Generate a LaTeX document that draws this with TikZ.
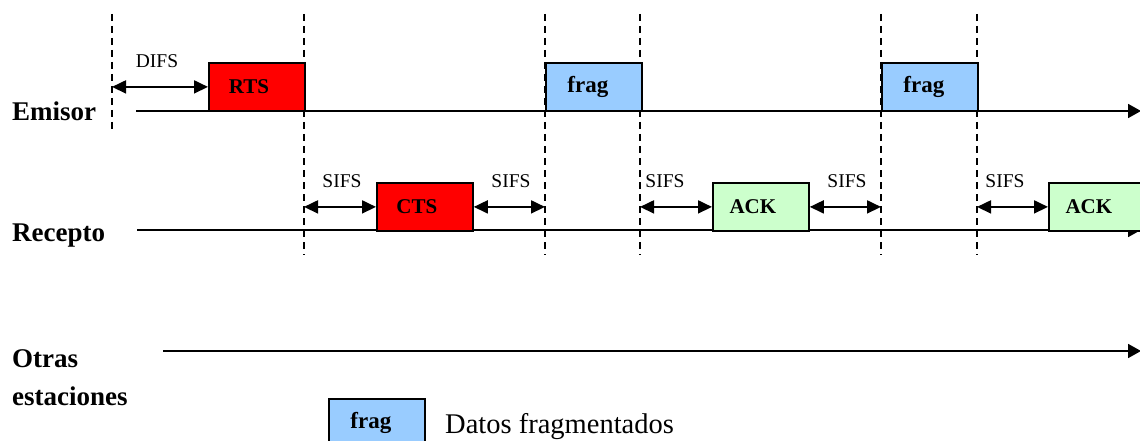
\documentclass[tikz,border=0pt]{standalone}
\usepackage{fontspec}
\setmainfont{Liberation Serif}
\usetikzlibrary{arrows.meta}

\definecolor{ctlred}{HTML}{FF0000}
\definecolor{fragblue}{HTML}{99CCFF}
\definecolor{ackgreen}{HTML}{CCFFCC}

\tikzset{
  pkt/.style={draw=black, line width=1.8pt, minimum width=96pt, minimum height=48pt,
              anchor=north west, inner sep=0pt},
  pktlbl/.style={font=\fontsize{21}{25}\selectfont\bfseries, inner sep=0pt},
  fraglbl/.style={font=\fontsize{23}{27}\selectfont\bfseries, inner sep=0pt, xshift=-6pt},
  axisline/.style={line width=1.8pt, -{Triangle[length=13pt,width=14pt]}},
  marker/.style={line width=1.6pt, dash pattern=on 7pt off 5pt},
  gap/.style={line width=1.8pt, {Triangle[length=14pt,width=13pt]}-{Triangle[length=14pt,width=13pt]}},
  gaplbl/.style={font=\fontsize{19.5}{23}\selectfont, anchor=base, inner sep=0pt},
  station/.style={font=\fontsize{27}{30}\selectfont\bfseries, anchor=base west, inner sep=0pt},
}

\begin{document}
\begin{tikzpicture}[x=1pt, y=-1pt]
  \useasboundingbox (0,0) rectangle (1140,441);

  % time markers
  \coordinate (m1t) at (112,14);  \coordinate (m1b) at (112,131);
  \coordinate (m2t) at (304,14);  \coordinate (m2b) at (304,255);
  \coordinate (m3t) at (545,14);  \coordinate (m3b) at (545,255);
  \coordinate (m4t) at (640,14);  \coordinate (m4b) at (640,255);
  \coordinate (m5t) at (881,14);  \coordinate (m5b) at (881,255);
  \coordinate (m6t) at (977,14);  \coordinate (m6b) at (977,255);
  \foreach \i in {1,...,6} { \draw[marker] (m\i t) -- (m\i b); }

  % time axes
  \coordinate (e0) at (136,111);  \coordinate (e1) at (1141,111);
  \coordinate (r0) at (137,230);  \coordinate (r1) at (1141,230);
  \coordinate (o0) at (163,351);  \coordinate (o1) at (1141,351);
  \draw[axisline] (e0) -- (e1);
  \draw[axisline] (r0) -- (r1);
  \draw[axisline] (o0) -- (o1);

  % station names
  \node[station] (emisor) at (12,121) {Emisor};
  \node[station] (recepto) at (12,241) {Recepto};
  \node[station] (otras) at (12,367) {Otras};
  \node[station] (estac) at (12,405) {estaciones};

  % frames
  \node[pkt, fill=ctlred,   label={[pktlbl, xshift=-8pt]center:RTS}] (rts)   at (208,62) {};
  \node[pkt, fill=fragblue, label={[fraglbl]center:frag}]            (frag1) at (545,62) {};
  \node[pkt, fill=fragblue, label={[fraglbl]center:frag}]            (frag2) at (881,62) {};
  \node[pkt, fill=ctlred,   label={[pktlbl, xshift=-8pt]center:CTS}] (cts)   at (376,182) {};
  \node[pkt, fill=ackgreen, label={[pktlbl, xshift=-8pt]center:ACK}] (ack1)  at (712,182) {};
  \node[pkt, fill=ackgreen, label={[pktlbl, xshift=-8pt]center:ACK}] (ack2)  at (1048,182) {};

  % interframe spaces
  \draw[gap] (rts.west -| m1t) -- (rts.west);
  \draw[gap] (cts.west -| m2t) -- (cts.west);
  \draw[gap] (cts.east) -- (cts.east -| m3t);
  \draw[gap] (ack1.west -| m4t) -- (ack1.west);
  \draw[gap] (ack1.east) -- (ack1.east -| m5t);
  \draw[gap] (ack2.west -| m6t) -- (ack2.west);

  \node[gaplbl] (difs)  at (157,68)  {DIFS};
  \node[gaplbl] (sifs1) at (342,187) {SIFS};
  \node[gaplbl] (sifs2) at (511,187) {SIFS};
  \node[gaplbl] (sifs3) at (665,187) {SIFS};
  \node[gaplbl] (sifs4) at (847,187) {SIFS};
  \node[gaplbl] (sifs5) at (1005,187) {SIFS};

  % legend
  \node[pkt, fill=fragblue, label={[fraglbl]center:frag}] (key) at (328,398) {};
  \node[font=\fontsize{28.5}{32}\selectfont, anchor=base west, inner sep=0pt] (keytext) at (445,433) {Datos fragmentados};
\end{tikzpicture}
\end{document}
